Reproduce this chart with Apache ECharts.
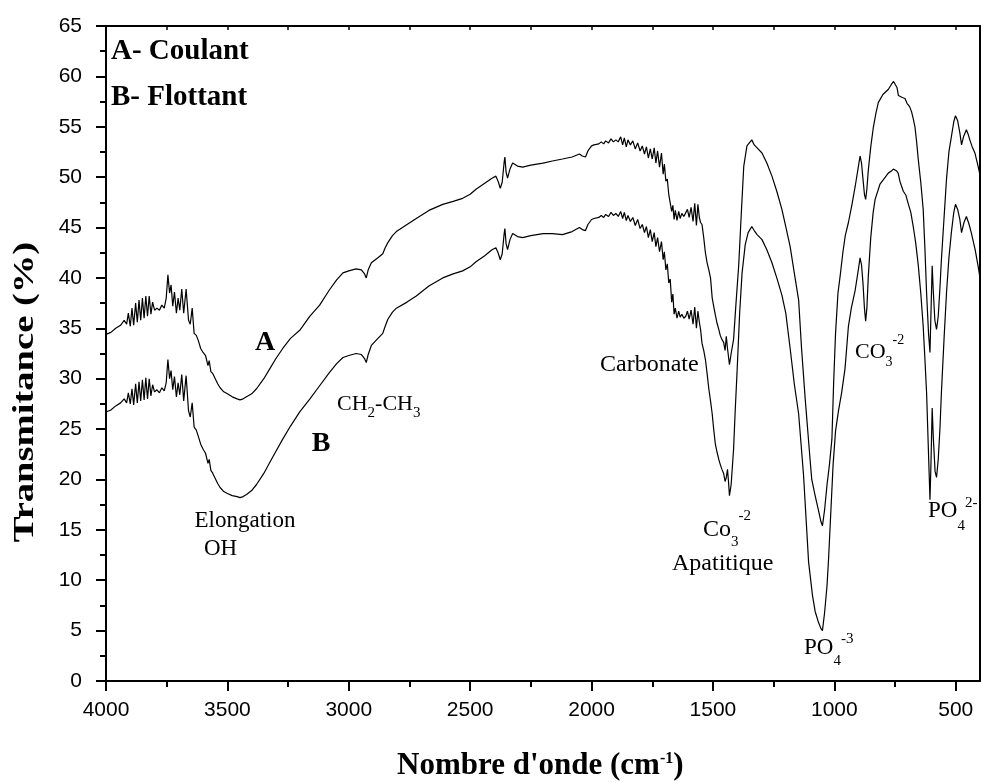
<!DOCTYPE html>
<html><head><meta charset="utf-8">
<script src="https://cdn.jsdelivr.net/npm/echarts@6/dist/echarts.min.js"></script>
<style>html,body{margin:0;padding:0;background:#fff}#c{width:981px;height:783px}</style>
</head><body><div id="c"></div>
<script>
// Spectrum A (Coulant): [wavenumber cm-1, transmittance %]
const spectrumA = [[4000,34.4],[3980,34.6],[3960,35.0],[3940,35.3],[3925,35.8],[3915,35.4],[3908,36.5],[3900,35.2],[3893,37.0],[3886,35.3],[3878,37.5],[3871,35.6],[3864,37.8],[3857,35.8],[3850,38.0],[3843,36.0],[3836,38.2],[3829,36.2],[3822,38.2],[3815,36.4],[3808,37.6],[3800,36.8],[3790,37.0],[3780,36.8],[3770,37.3],[3760,37.0],[3752,38.0],[3745,40.3],[3738,38.5],[3732,39.3],[3725,37.2],[3718,38.6],[3710,36.5],[3703,38.0],[3696,36.8],[3688,38.9],[3680,36.5],[3670,38.9],[3660,35.8],[3653,35.4],[3645,37.0],[3637,34.5],[3628,34.3],[3620,33.8],[3610,33.0],[3600,32.6],[3590,32.3],[3580,31.3],[3575,31.8],[3568,30.7],[3560,30.5],[3550,30.0],[3540,29.5],[3530,29.1],[3515,28.7],[3500,28.5],[3480,28.2],[3460,28.0],[3448,27.9],[3435,28.0],[3421,28.2],[3400,28.5],[3380,29.0],[3350,30.0],[3325,31.0],[3300,32.0],[3272,33.0],[3240,34.0],[3202,34.8],[3160,36.2],[3120,37.3],[3080,38.8],[3050,39.8],[3024,40.5],[3000,40.7],[2970,40.9],[2948,40.8],[2935,40.4],[2928,40.0],[2920,40.8],[2907,41.5],[2880,42.0],[2860,42.4],[2850,43.0],[2839,43.5],[2820,44.2],[2804,44.6],[2760,45.3],[2722,45.9],[2670,46.7],[2613,47.3],[2570,47.6],[2531,47.9],[2500,48.3],[2476,48.8],[2440,49.4],[2410,49.9],[2394,50.1],[2385,49.6],[2376,48.9],[2368,49.5],[2360,51.5],[2357,52.0],[2352,50.5],[2346,49.9],[2336,50.8],[2325,51.4],[2305,51.1],[2284,51.0],[2250,51.2],[2200,51.4],[2161,51.6],[2120,51.8],[2080,52.0],[2050,52.3],[2038,52.1],[2025,52.0],[2015,52.6],[2000,53.1],[1990,53.2],[1970,53.3],[1960,53.5],[1950,53.3],[1942,53.6],[1930,53.4],[1920,53.8],[1910,53.5],[1900,53.7],[1890,53.5],[1880,54.0],[1872,53.2],[1865,53.9],[1857,53.0],[1850,53.7],[1840,53.2],[1830,53.6],[1820,52.8],[1810,53.4],[1800,52.6],[1791,53.1],[1782,52.3],[1774,53.0],[1766,51.9],[1758,52.8],[1750,51.8],[1742,52.9],[1735,51.4],[1728,52.6],[1720,51.0],[1712,52.4],[1705,50.3],[1700,51.3],[1694,49.6],[1688,49.8],[1682,48.3],[1676,48.4],[1670,46.6],[1665,47.2],[1660,45.8],[1655,46.7],[1648,45.7],[1641,46.6],[1635,45.9],[1628,46.4],[1620,46.1],[1612,46.2],[1605,46.8],[1598,46.0],[1590,47.0],[1582,45.6],[1575,47.4],[1568,45.2],[1562,47.3],[1556,46.0],[1551,45.5],[1545,45.3],[1538,44.0],[1531,42.5],[1524,41.5],[1517,40.8],[1510,40.0],[1503,38.0],[1497,37.2],[1490,36.3],[1483,35.5],[1476,34.9],[1470,34.3],[1463,33.9],[1456,33.6],[1450,32.8],[1445,34.2],[1440,33.0],[1432,31.4],[1425,32.5],[1415,33.9],[1405,37.5],[1394,41.2],[1383,46.5],[1373,51.1],[1360,53.1],[1350,53.4],[1340,53.7],[1330,53.2],[1318,52.9],[1298,52.4],[1278,51.4],[1257,50.1],[1237,48.6],[1216,46.8],[1200,45.1],[1182,43.1],[1165,40.5],[1147,37.8],[1135,33.0],[1120,28.0],[1100,22.0],[1093,20.0],[1080,18.5],[1066,17.0],[1055,15.8],[1049,15.4],[1040,17.0],[1030,19.5],[1020,21.5],[1010,24.0],[1003,29.5],[995,34.5],[985,38.5],[976,40.2],[965,42.5],[955,44.2],[942,45.5],[928,47.2],[914,49.1],[900,51.2],[894,52.1],[888,51.4],[882,49.8],[876,48.3],[871,47.8],[866,48.8],[860,50.7],[850,53.0],[839,55.0],[829,56.3],[819,57.4],[800,58.2],[778,58.7],[765,59.2],[756,59.5],[750,59.4],[742,58.9],[736,58.1],[730,58.0],[720,57.9],[709,57.8],[700,57.3],[690,57.0],[682,56.5],[675,55.8],[668,55.0],[661,53.5],[654,51.7],[644,49.5],[634,46.8],[627,43.0],[620,38.5],[612,34.5],[606,32.6],[602,36.5],[597,41.2],[592,38.5],[586,35.8],[579,34.9],[572,36.2],[565,39.0],[559,41.8],[548,46.0],[538,49.8],[528,52.5],[518,54.0],[508,55.5],[501,56.1],[492,55.6],[483,54.4],[476,53.2],[468,54.0],[456,54.7],[448,54.2],[442,53.7],[432,53.0],[421,52.4],[408,51.1],[400,50.2]];

// Spectrum B (Flottant)
const spectrumB = [[4000,26.7],[3980,26.9],[3960,27.3],[3940,27.6],[3925,28.0],[3915,27.6],[3908,28.6],[3900,27.5],[3893,29.0],[3886,27.4],[3878,29.5],[3871,27.6],[3864,29.7],[3857,27.8],[3850,29.9],[3843,27.9],[3836,30.1],[3829,28.0],[3822,30.0],[3815,28.3],[3808,29.4],[3800,28.7],[3790,28.9],[3780,28.6],[3770,29.1],[3760,28.8],[3752,29.6],[3745,31.9],[3738,30.0],[3732,30.8],[3725,28.9],[3718,30.2],[3710,28.2],[3703,29.6],[3696,28.4],[3688,30.4],[3680,27.8],[3670,30.3],[3660,26.8],[3653,26.2],[3645,27.6],[3637,25.2],[3628,24.9],[3620,24.3],[3610,23.5],[3600,23.0],[3590,22.6],[3580,21.6],[3575,22.0],[3568,20.9],[3560,20.6],[3550,20.1],[3540,19.6],[3530,19.2],[3515,18.8],[3500,18.6],[3480,18.4],[3460,18.3],[3448,18.2],[3435,18.3],[3421,18.5],[3400,18.9],[3380,19.5],[3350,20.6],[3325,21.7],[3300,22.8],[3272,24.0],[3240,25.3],[3202,26.7],[3160,28.0],[3120,29.3],[3080,30.6],[3050,31.5],[3024,32.1],[3000,32.3],[2970,32.5],[2948,32.4],[2935,32.0],[2928,31.6],[2920,32.4],[2907,33.3],[2880,34.0],[2860,34.5],[2850,35.2],[2839,35.9],[2820,36.6],[2804,37.0],[2760,37.6],[2722,38.2],[2670,39.2],[2613,40.0],[2570,40.4],[2531,40.7],[2500,41.1],[2476,41.6],[2440,42.2],[2410,42.8],[2394,43.0],[2385,42.5],[2376,41.8],[2368,42.4],[2360,44.4],[2357,44.9],[2352,43.4],[2346,42.8],[2336,43.8],[2325,44.4],[2305,44.1],[2284,44.0],[2250,44.2],[2200,44.4],[2161,44.4],[2120,44.3],[2080,44.6],[2050,45.0],[2038,44.8],[2025,44.7],[2015,45.3],[2000,45.8],[1990,45.9],[1970,46.0],[1960,46.2],[1950,46.0],[1942,46.3],[1930,46.1],[1920,46.5],[1910,46.2],[1900,46.4],[1890,46.1],[1880,46.6],[1872,45.9],[1865,46.5],[1857,45.7],[1850,46.2],[1840,45.6],[1830,46.0],[1820,45.2],[1810,45.8],[1800,44.9],[1791,45.3],[1782,44.5],[1774,45.1],[1766,44.0],[1758,44.8],[1750,43.6],[1742,44.5],[1735,43.1],[1728,44.0],[1720,42.6],[1712,43.6],[1705,41.8],[1700,42.6],[1694,40.8],[1688,41.4],[1682,39.5],[1676,39.9],[1670,37.6],[1665,38.4],[1660,36.4],[1655,37.0],[1648,36.0],[1641,36.7],[1635,36.1],[1628,36.4],[1620,36.0],[1612,36.2],[1605,36.7],[1598,35.9],[1590,36.8],[1582,35.4],[1575,37.1],[1568,35.0],[1562,36.7],[1556,35.6],[1551,34.9],[1545,33.5],[1538,32.8],[1531,31.9],[1524,30.5],[1517,29.0],[1510,27.8],[1503,26.5],[1497,25.0],[1490,23.5],[1483,22.7],[1476,22.0],[1470,21.5],[1463,21.0],[1456,20.6],[1450,19.8],[1445,20.2],[1440,21.0],[1436,19.8],[1432,18.4],[1425,19.5],[1415,23.0],[1408,27.0],[1401,30.5],[1390,36.5],[1380,40.5],[1367,43.3],[1355,44.5],[1340,45.1],[1330,44.7],[1318,44.3],[1298,43.8],[1278,42.8],[1257,41.5],[1237,40.0],[1216,38.3],[1200,36.5],[1182,33.0],[1165,29.5],[1147,26.5],[1127,20.5],[1106,11.8],[1090,8.5],[1079,6.9],[1065,5.8],[1055,5.2],[1049,5.0],[1040,6.8],[1030,9.5],[1024,12.0],[1015,16.5],[1005,21.5],[995,24.8],[983,26.8],[970,28.6],[956,31.0],[942,35.2],[930,37.0],[914,38.8],[900,41.0],[894,42.0],[888,41.3],[882,39.5],[876,37.0],[871,35.7],[866,37.0],[860,40.2],[850,44.0],[840,46.5],[832,47.8],[812,49.3],[790,50.0],[778,50.4],[765,50.6],[757,50.8],[750,50.9],[743,50.6],[737,50.4],[730,49.6],[716,48.6],[705,48.2],[696,47.4],[685,46.5],[675,45.1],[665,43.5],[654,41.2],[644,38.5],[634,35.2],[627,32.0],[620,28.6],[612,22.5],[606,18.0],[602,21.5],[597,27.1],[592,24.0],[585,20.8],[579,20.2],[572,22.0],[565,25.0],[559,28.6],[548,34.0],[538,38.5],[528,42.0],[518,44.5],[508,46.5],[501,47.3],[492,46.8],[483,45.8],[476,44.5],[466,45.5],[456,46.1],[446,45.4],[436,44.5],[420,42.8],[408,41.2],[400,40.0]];

const xMajorTicks = [4000,3500,3000,2500,2000,1500,1000,500];
const xMinorTicks = [3750,3250,2750,2250,1750,1250,750];
const xTopTicks = [3750,3500,3250,3000,2750,2500,2250,2000,1750,1500,1250,1000,750,500];

const SERIF = '"Liberation Serif","Times New Roman",serif';
const SANS = '"Liberation Sans",Arial,sans-serif';

const mctx = document.createElement('canvas').getContext('2d');
function measure(t, s, w) { mctx.font = (w || 'normal') + ' ' + s + 'px ' + SERIF; return mctx.measureText(t).width; }
function txt(x, y, t, s, w, align, extra) {
  return Object.assign({type:'text', x:x, y:y, silent:true, z:100,
    style:{text:t, fill:'#000', fontSize:s, fontFamily:SERIF, fontWeight:w || 'normal', align:align || 'left', verticalAlign:'middle'}}, extra || {});
}
function compound(x, y, parts) {
  const els = []; let cx = x;
  parts.forEach(p => {
    els.push(txt(cx, y + (p.dy || 0), p.t, p.s, p.w));
    cx += measure(p.t, p.s, p.w) + (p.gap || 0);
  });
  return els;
}

let graphics = [];
graphics.push(txt(111, 52, 'A- Coulant', 29, 'bold'));
graphics.push(txt(111, 98, 'B- Flottant', 29, 'bold'));
graphics.push(txt(265, 343, 'A', 28, 'bold', 'center'));
graphics.push(txt(321, 444, 'B', 28, 'bold', 'center'));
graphics = graphics.concat(compound(337, 404, [{t:'CH',s:22},{t:'2',s:15,dy:9},{t:'-CH',s:22},{t:'3',s:15,dy:9}]));
graphics.push(txt(245, 521, 'Elongation', 23, 'normal', 'center'));
graphics.push(txt(204, 549, 'OH', 23));
graphics.push(txt(600, 365, 'Carbonate', 24));
graphics = graphics.concat(compound(855, 352, [{t:'CO',s:22},{t:'3',s:14,dy:10},{t:'-2',s:14,dy:-12}]));
graphics = graphics.concat(compound(703, 530, [{t:'Co',s:24},{t:'3',s:15,dy:12},{t:'-2',s:15,dy:-14}]));
graphics.push(txt(672, 564, 'Apatitique', 24));
graphics = graphics.concat(compound(804, 648, [{t:'PO',s:23},{t:'4',s:15,dy:13},{t:'-3',s:15,dy:-9}]));
graphics = graphics.concat(compound(928, 511, [{t:'PO',s:23},{t:'4',s:15,dy:15},{t:'2-',s:15,dy:-8}]));
graphics = graphics.concat(compound(397, 766, [{t:"Nombre d'onde (cm",s:31,w:'bold'},{t:'-1',s:16,w:'bold',dy:-7},{t:')',s:31,w:'bold'}]));
graphics.push(txt(26, 392, 'Transmitance (%)', 29, 'bold', 'center', {rotation: Math.PI / 2, scaleX: 1.33}));

const axisBlack = {color:'#000', width:2};
const plain = v => String(v);
const chart = echarts.init(document.getElementById('c'), null, {renderer:'canvas'});
chart.setOption({
  animation: false,
  backgroundColor: '#fff',
  grid: {left:106, right:1, top:26, bottom:102, containLabel:false},
  xAxis: [
    {type:'value', min:400, max:4000, inverse:true, position:'bottom',
      axisLine:{show:true, onZero:false, lineStyle:axisBlack},
      axisTick:{show:true, inside:false, length:10, lineStyle:axisBlack, customValues:xMajorTicks},
      axisLabel:{show:true, customValues:xMajorTicks, formatter:plain, margin:19, color:'#000', fontSize:21, fontFamily:SANS},
      splitLine:{show:false}},
    {type:'value', min:400, max:4000, inverse:true, position:'bottom', offset:0,
      axisLine:{show:false, onZero:false},
      axisTick:{show:true, inside:false, length:6, lineStyle:axisBlack, customValues:xMinorTicks},
      axisLabel:{show:false}, splitLine:{show:false}},
    {type:'value', min:400, max:4000, inverse:true, position:'top',
      axisLine:{show:true, onZero:false, lineStyle:axisBlack},
      axisTick:{show:true, inside:true, length:4, lineStyle:{color:'#000', width:1.5}, customValues:xTopTicks},
      axisLabel:{show:false}, splitLine:{show:false}}
  ],
  yAxis: [
    {type:'value', min:0, max:65, interval:5, position:'left',
      axisLine:{show:true, onZero:false, lineStyle:axisBlack},
      axisTick:{show:true, inside:false, length:10, lineStyle:axisBlack},
      minorTick:{show:true, splitNumber:2, length:6, lineStyle:axisBlack},
      axisLabel:{margin:24, formatter:plain, color:'#000', fontSize:21, fontFamily:SANS},
      splitLine:{show:false}, minorSplitLine:{show:false}},
    {type:'value', min:0, max:65, interval:5, position:'right',
      axisLine:{show:true, onZero:false, lineStyle:axisBlack},
      axisTick:{show:false}, axisLabel:{show:false}, splitLine:{show:false}}
  ],
  series: [
    {name:'A- Coulant', type:'line', xAxisIndex:0, yAxisIndex:0, data:spectrumA, showSymbol:false, silent:true,
      lineStyle:{color:'#000', width:1.2}},
    {name:'B- Flottant', type:'line', xAxisIndex:0, yAxisIndex:0, data:spectrumB, showSymbol:false, silent:true,
      lineStyle:{color:'#000', width:1.2}}
  ],
  graphic: graphics
});
</script>
</body></html>
